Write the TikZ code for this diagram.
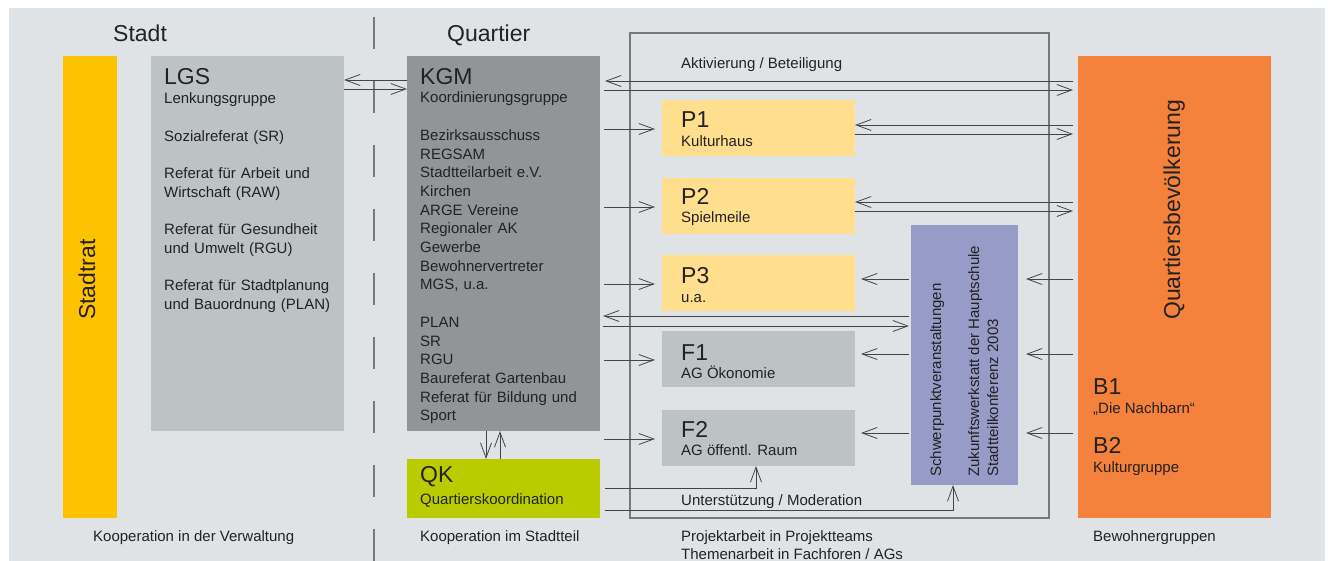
\documentclass[tikz,border=0pt]{standalone}
\usepackage{fontspec}
\setmainfont{Liberation Sans}
\usetikzlibrary{arrows.meta,calc}
\definecolor{bgc}{HTML}{E0E3E6}
\definecolor{yel}{HTML}{FDC300}
\definecolor{lgray}{HTML}{BDC3C5}
\definecolor{dgray}{HTML}{929598}
\definecolor{lime}{HTML}{B9CC00}
\definecolor{pyel}{HTML}{FFDE8E}
\definecolor{purp}{HTML}{969BC8}
\definecolor{oran}{HTML}{F4823C}
\definecolor{linec}{HTML}{444444}
\definecolor{framec}{HTML}{787878}
\definecolor{txt}{HTML}{222222}
\begin{document}
\begin{tikzpicture}[x=1pt,y=-1pt,
  box/.style={anchor=north west, inner sep=0pt, outer sep=0pt, draw=none},
  ttl/.style={anchor=base west, inner sep=0pt, text=txt, font=\fontsize{23}{27}\selectfont},
  bdy/.style={anchor=base west, inner sep=0pt, text=txt, font=\fontsize{15}{18.7}\selectfont, text width=260pt, align=left},
  lbl/.style={anchor=base west, inner sep=0pt, text=txt, font=\fontsize{15}{18.7}\selectfont},
  arr/.style={draw=linec, line width=0.8pt, -{Straight Barb[length=15pt,width=11pt,line width=0.8pt]}},
]
\path[use as bounding box] (0,0) rectangle (1329,561);
\fill[bgc] (9,8) rectangle (1325,561);

% divider
\draw[framec, line width=1.2pt, dash pattern=on 32pt off 32pt] (374,17) -- (374,561);

% boxes
\node[box, fill=yel,   minimum width=54pt,  minimum height=462pt] (stadtrat) at (63,56) {};
\node[box, fill=lgray, minimum width=193pt, minimum height=375pt] (lgs) at (151,56) {};
\node[box, fill=dgray, minimum width=193pt, minimum height=375pt] (kgm) at (407,56) {};
\node[box, fill=lime,  minimum width=193pt, minimum height=59pt]  (qk) at (407,459) {};
\node[box, draw=framec, line width=1.1pt, minimum width=419pt, minimum height=485pt] (frame) at (630,33) {};
\node[box, fill=pyel,  minimum width=193pt, minimum height=56pt] (p1) at (662,100) {};
\node[box, fill=pyel,  minimum width=193pt, minimum height=56pt] (p2) at (662,178) {};
\node[box, fill=pyel,  minimum width=193pt, minimum height=56pt] (p3) at (662,255) {};
\node[box, fill=lgray, minimum width=193pt, minimum height=56pt] (f1) at (662,331) {};
\node[box, fill=lgray, minimum width=193pt, minimum height=56pt] (f2) at (662,410) {};
\node[box, fill=purp,  minimum width=107pt, minimum height=260pt] (sv) at (911,225) {};
\node[box, fill=oran,  minimum width=193pt, minimum height=462pt] (qb) at (1078,56) {};

% headings
\node[ttl] (stadtT) at (113,42) {Stadt};
\node[ttl] (quartT) at (447,42) {Quartier};
\node[ttl, rotate=90] (stadtratT) at (95,320) {Stadtrat};
\node[ttl, rotate=90] (qbT) at (1180,320) {Quartiersbevölkerung};

% LGS
\node[ttl] (lgsT) at (164,85) {LGS};
\node[bdy] (lgsB) at (164,104) {Lenkungsgruppe\\[18.7pt]
Sozialreferat (SR)\\[18.7pt]
Referat für Arbeit und\\ Wirtschaft (RAW)\\[18.7pt]
Referat für Gesundheit\\ und Umwelt (RGU)\\[18.7pt]
Referat für Stadtplanung\\ und Bauordnung (PLAN)};

% KGM
\node[ttl] (kgmT) at (420,85) {KGM};
\node[bdy] (kgmB) at (420,103) {Koordinierungsgruppe\\[18.7pt]
Bezirksausschuss\\ REGSAM\\ Stadtteilarbeit e.V.\\ Kirchen\\ ARGE Vereine\\ Regionaler AK\\ Gewerbe\\ Bewohnervertreter\\ MGS, u.a.\\[18.7pt]
PLAN\\ SR\\ RGU\\ Baureferat Gartenbau\\ Referat für Bildung und\\ Sport};

% QK
\node[ttl] (qkT) at (420,482) {QK};
\node[lbl] (qkB) at (420,504) {Quartierskoordination};

% P / F
\node[ttl] (p1T) at (681,128) {P1};
\node[lbl] (p1B) at (681,147) {Kulturhaus};
\node[ttl] (p2T) at (681,205) {P2};
\node[lbl] (p2B) at (681,223) {Spielmeile};
\node[ttl] (p3T) at (681,283) {P3};
\node[lbl] (p3B) at (681,302) {u.a.};
\node[ttl] (f1T) at (681,360) {F1};
\node[lbl] (f1B) at (681,378) {AG Ökonomie};
\node[ttl] (f2T) at (681,437) {F2};
\node[lbl] (f2B) at (681,455) {AG öffentl. Raum};

% purple
\node[lbl, rotate=90] (svA) at (941,477) {Schwerpunktveranstaltungen};
\node[lbl, rotate=90] (svB) at (979,477) {Zukunftswerkstatt der Hauptschule};
\node[lbl, rotate=90] (svC) at (998,477) {Stadtteilkonferenz 2003};

% B
\node[ttl] (b1T) at (1093,394) {B1};
\node[lbl] (b1B) at (1093,413) {„Die Nachbarn“};
\node[ttl] (b2T) at (1093,453) {B2};
\node[lbl] (b2B) at (1093,472) {Kulturgruppe};

% labels
\node[lbl] (aktT) at (681,69) {Aktivierung / Beteiligung};
\node[lbl] (untT) at (681,505) {Unterstützung / Moderation};
\node[lbl] (fA) at (93,541) {Kooperation in der Verwaltung};
\node[lbl] (fB) at (420,541) {Kooperation im Stadtteil};
\node[lbl] (fC) at (681,541) {Projektarbeit in Projektteams};
\node[lbl] (fD) at (681,559) {Themenarbeit in Fachforen / AGs};
\node[lbl] (fE) at (1093,541) {Bewohnergruppen};

% LGS <-> KGM
\draw[arr] ($(kgm.north west)+(0,24)$) -- ($(lgs.north east)+(0,24)$);
\draw[arr] ($(lgs.north east)+(0,33)$) -- ($(kgm.north west)+(0,33)$);
% KGM <-> Quartiersbevoelkerung
\draw[arr] ($(qb.north west)+(-5,25)$) -- ($(kgm.north east)+(5,25)$);
\draw[arr] ($(kgm.north east)+(4,34)$) -- ($(qb.north west)+(-5,34)$);
% KGM -> P / F
\foreach \t in {p1,p2,p3,f1,f2}{
  \draw[arr] ($(kgm.east |- \t.west)+(4,1)$) -- ($(\t.west)+(-7,1)$);
}
% P1, P2 <-> Q
\draw[arr] ($(qb.west |- p1.east)+(-5,-3)$) -- ($(p1.east)+(0,-3)$);
\draw[arr] ($(p1.east)+(0,6)$) -- ($(qb.west |- p1.east)+(-5,6)$);
\draw[arr] ($(qb.west |- p2.east)+(-5,-4)$) -- ($(p2.east)+(0,-4)$);
\draw[arr] ($(p2.east)+(0,5)$) -- ($(qb.west |- p2.east)+(-5,5)$);
% SV <-> KGM
\draw[arr] ($(sv.north west)+(-2,91)$) -- ($(kgm.east |- sv.north west)+(3,91)$);
\draw[arr] ($(kgm.east |- sv.north west)+(3,101)$) -- ($(sv.north west)+(-2,101)$);
% SV -> P3/F1/F2, Q -> SV
\draw[arr] ($(sv.west |- p3.east)+(-2,-4)$) -- ($(p3.east)+(6,-4)$);
\draw[arr] ($(qb.west |- p3.east)+(-5,-4)$) -- ($(sv.east |- p3.east)+(8,-4)$);
\draw[arr] ($(sv.west |- f1.east)+(-2,-5)$) -- ($(f1.east)+(6,-5)$);
\draw[arr] ($(qb.west |- f1.east)+(-5,-5)$) -- ($(sv.east |- f1.east)+(8,-5)$);
\draw[arr] ($(sv.west |- f2.east)+(-2,-5)$) -- ($(f2.east)+(6,-5)$);
\draw[arr] ($(qb.west |- f2.east)+(-5,-5)$) -- ($(sv.east |- f2.east)+(8,-5)$);
% KGM <-> QK
\draw[arr] ($(kgm.south west)+(79,0)$) -- ($(qk.north west)+(79,0)$);
\draw[arr] ($(qk.north west)+(93,0)$) -- ($(kgm.south west)+(93,0)$);
% QK -> F2, QK -> SV
\draw[arr] ($(qk.north east)+(5,29)$) -| ($(f2.south west)+(94,0)$);
\draw[arr] ($(qk.north east)+(5,51)$) -| ($(sv.south west)+(42,0)$);
\end{tikzpicture}
\end{document}
